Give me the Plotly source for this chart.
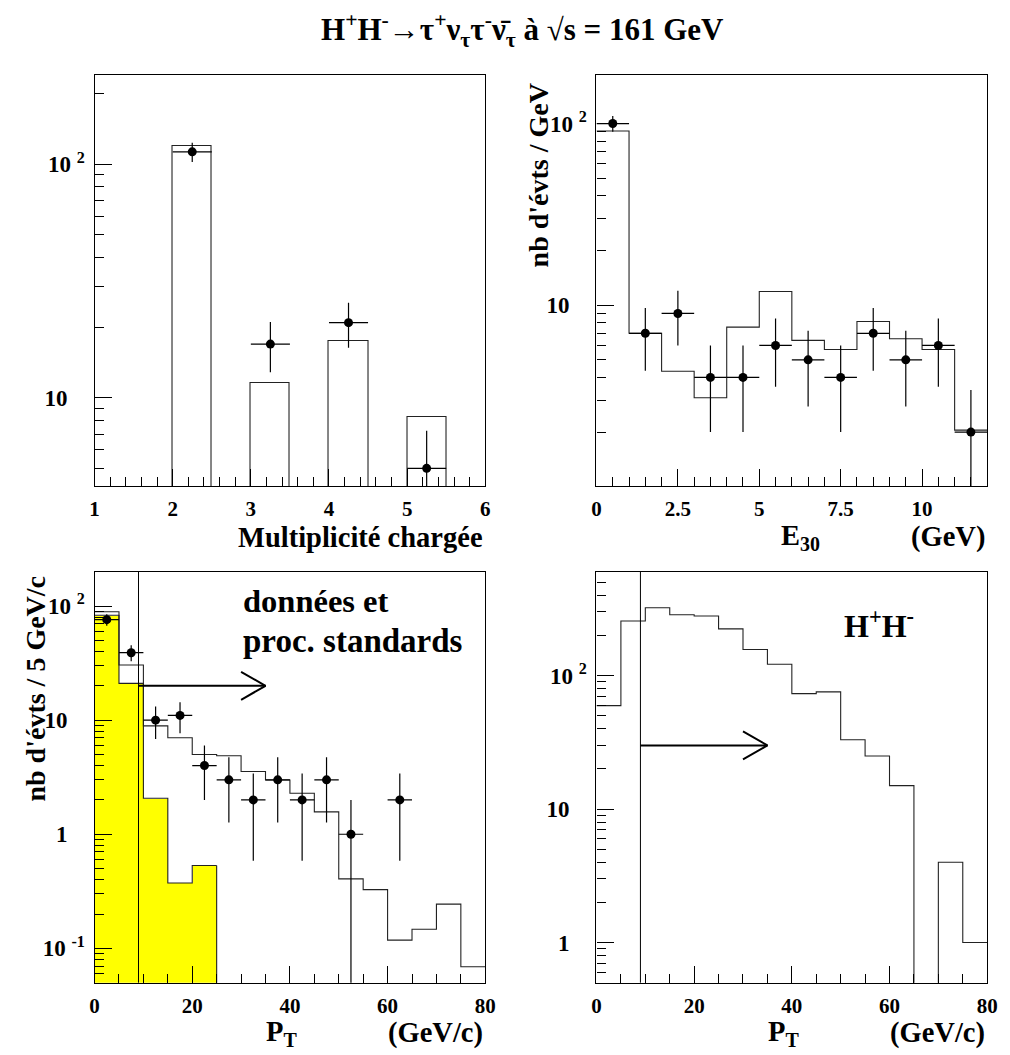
import numpy as np
import plotly.graph_objects as go

# ---------------- data ----------------
# Panel 1 : charged multiplicity
MULT_BIN_LOW = [2, 3, 4, 5]
MULT_BIN_WIDTH = 0.5
MULT_MC = [120, 11.6, 17.6, 8.3]
MULT_DATA = [113, 17, 21, 5]

# Panel 2 : E30 (1 GeV bins from 0 to 12)
E30_EDGES = list(range(0, 13))
E30_MC = [91, 7.0, 4.33, 3.09, 7.57, 11.9, 6.4, 5.7, 8.13, 6.53, 5.7, 2.05]
E30_DATA = [100, 7, 9, 4, 4, 6, 5, 4, 7, 5, 6, 2]

# Panel 3 : PT, data and standard processes (5 GeV/c bins 0..80)
PT_EDGES = list(range(0, 85, 5))
PT_YELLOW = [83, 21, 2.07, 0.374, 0.532, 0, 0, 0, 0, 0, 0, 0, 0, 0, 0, 0]
PT_MC = [89, 30.4, 8.9, 7.0, 5.0, 4.87, 3.55, 2.99, 2.29, 1.57,
         0.406, 0.327, 0.118, 0.147, 0.244, 0.069]
PT_DATA = [76, 39, 10, 11, 4, 3, 2, 3, 2, 3, 1, 0, 2, 0, 0, 0]

# Panel 4 : PT, H+H- signal
PT_SIGNAL = [59.6, 257, 323, 286, 280, 224, 157, 121.6, 73.3, 75.5,
             33.1, 25, 15, 0, 4, 1]

PT_CUT = 9
ARROW_END = 35
ARROW_Y_DATA = 20
ARROW_Y_SIGNAL = 30

FONT = "Liberation Serif"
W, H = 1010, 1055
FLOOR = 1e-6


def px_x(p):
    return p / W


def px_y(p):
    return 1 - p / H


def step_trace(edges, vals, xa, ya):
    v = [x if x > 0 else FLOOR for x in vals]
    return go.Scatter(x=edges, y=v + [v[-1]], mode="lines", line_shape="hv",
                      line=dict(color="#222", width=1.1), xaxis=xa, yaxis=ya,
                      hoverinfo="skip", showlegend=False)


def data_trace(centers, counts, halfw, xa, ya):
    xs, ys, es = [], [], []
    for c, n in zip(centers, counts):
        if n > 0:
            xs.append(c)
            ys.append(n)
            es.append(float(np.sqrt(n)))
    return go.Scatter(x=xs, y=ys, mode="markers",
                      marker=dict(color="black", size=9, symbol="circle"),
                      error_y=dict(type="data", array=es, visible=True, width=0,
                                   thickness=1.2, color="black"),
                      error_x=dict(type="constant", value=halfw, visible=True, width=0,
                                   thickness=1.2, color="black"),
                      xaxis=xa, yaxis=ya, showlegend=False)


fig = go.Figure()

# Panel 1
mult_centers = [b + MULT_BIN_WIDTH / 2 for b in MULT_BIN_LOW]
fig.add_trace(go.Bar(x=mult_centers, y=MULT_MC, width=MULT_BIN_WIDTH,
                     marker=dict(color="rgba(0,0,0,0)", line=dict(color="#222", width=1.1)),
                     xaxis="x", yaxis="y", showlegend=False))
fig.add_trace(data_trace(mult_centers, MULT_DATA, MULT_BIN_WIDTH / 2, "x", "y"))

# Panel 2
e_centers = [(a + b) / 2 for a, b in zip(E30_EDGES[:-1], E30_EDGES[1:])]
fig.add_trace(step_trace(E30_EDGES, E30_MC, "x2", "y2"))
fig.add_trace(data_trace(e_centers, E30_DATA, 0.5, "x2", "y2"))

# Panel 3
pt_centers = [(a + b) / 2 for a, b in zip(PT_EDGES[:-1], PT_EDGES[1:])]
yc = [c for c, v in zip(pt_centers, PT_YELLOW) if v > 0]
yv = [v for v in PT_YELLOW if v > 0]
fig.add_trace(go.Bar(x=yc, y=yv, width=5, marker=dict(color="#ffff00", line=dict(width=0)),
                     xaxis="x3", yaxis="y3", showlegend=False))
ye = PT_EDGES[:len(yv) + 1]
fig.add_trace(step_trace(ye, yv, "x3", "y3"))
fig.add_trace(go.Scatter(x=[ye[-1], ye[-1]], y=[FLOOR, yv[-1]], mode="lines",
                         line=dict(color="#222", width=1.1), xaxis="x3", yaxis="y3",
                         showlegend=False))
fig.add_trace(step_trace(PT_EDGES, PT_MC, "x3", "y3"))
fig.add_trace(data_trace(pt_centers, PT_DATA, 2.5, "x3", "y3"))

# Panel 4
fig.add_trace(step_trace(PT_EDGES, PT_SIGNAL, "x4", "y4"))

# arrows (open heads)
for xa, ya, yv_, fac in (("x3", "y3", ARROW_Y_DATA, 1.327), ("x4", "y4", ARROW_Y_SIGNAL, 1.273)):
    fig.add_trace(go.Scatter(
        x=[PT_CUT, ARROW_END, None, ARROW_END - 5, ARROW_END, ARROW_END - 5],
        y=[yv_, yv_, None, yv_ * fac, yv_, yv_ / fac],
        mode="lines", line=dict(color="black", width=2), xaxis=xa, yaxis=ya,
        showlegend=False, hoverinfo="skip"))

# cut lines
for xr, yr in (("x3", "y3 domain"), ("x4", "y4 domain")):
    fig.add_shape(type="line", xref=xr, yref=yr, x0=PT_CUT, x1=PT_CUT, y0=0, y1=1,
                  line=dict(color="black", width=1))


# ---------------- axes ----------------
def xaxis(dom, rng, dtick, mdtick, anchor):
    return dict(domain=dom, range=rng, tick0=0, dtick=dtick, anchor=anchor,
                ticks="inside", ticklen=17, tickwidth=1, tickcolor="black",
                showline=True, linecolor="black", linewidth=1.2, mirror=True,
                showgrid=False, zeroline=False, ticklabelstandoff=4,
                minor=dict(ticks="inside", ticklen=9, tickwidth=1, tickcolor="black",
                           dtick=mdtick, tick0=0, showgrid=False),
                tickfont=dict(family=FONT, size=21, color="black", weight="bold"))


def label(v):
    e = int(round(np.log10(v)))
    if e == 0:
        return "1\u00a0\u00a0\u00a0"
    if e == 1:
        return "10\u00a0\u00a0\u00a0"
    return "10\u00a0<sup>%d</sup>" % e


def yaxis(dom, lo, hi, anchor):
    lo_e, hi_e = int(np.floor(np.log10(lo))), int(np.ceil(np.log10(hi)))
    major = [10.0 ** e for e in range(lo_e, hi_e + 1) if lo <= 10.0 ** e <= hi]
    minor = [m * 10.0 ** e for e in range(lo_e, hi_e + 1) for m in range(2, 10)
             if lo <= m * 10.0 ** e <= hi]
    return dict(domain=dom, type="log", range=[np.log10(lo), np.log10(hi)], anchor=anchor,
                tickmode="array", tickvals=major, ticktext=[label(v) for v in major],
                ticks="inside", ticklen=17, tickwidth=1, tickcolor="black",
                showline=True, linecolor="black", linewidth=1.2, mirror=True,
                showgrid=False, zeroline=False, ticklabelstandoff=4,
                minor=dict(ticks="inside", ticklen=9, tickwidth=1, tickcolor="black",
                           tickmode="array", tickvals=minor, showgrid=False),
                tickfont=dict(family=FONT, size=23, color="black", weight="bold"))


XL = [px_x(91), px_x(488)]
XR = [px_x(601), px_x(998)]
YT = [px_y(486), px_y(75)]
YB = [px_y(982.7), px_y(571.7)]

fig.update_layout(
    width=W, height=H, autosize=False,
    margin=dict(l=0, r=0, t=0, b=0),
    paper_bgcolor="white", plot_bgcolor="white",
    font=dict(family=FONT, color="black"),
    showlegend=False, bargap=0, hovermode=False,
    xaxis=xaxis(XL, [1, 6], 1, 0.2, "y"),
    yaxis=yaxis(YT, 4.2, 241, "x"),
    xaxis2=xaxis(XR, [0, 12], 2.5, 0.5, "y2"),
    yaxis2=yaxis(YT, 1.01, 185, "x2"),
    xaxis3=xaxis(XL, [0, 80], 20, 5, "y3"),
    yaxis3=yaxis(YB, 0.05, 200, "x3"),
    xaxis4=xaxis(XR, [0, 80], 20, 5, "y4"),
    yaxis4=yaxis(YB, 0.5, 601, "x4"),
)


def ann(text, x, y, size, xanchor="center", yanchor="middle", angle=0):
    fig.add_annotation(text=text, x=px_x(x), y=px_y(y), xref="paper", yref="paper",
                       xanchor=xanchor, yanchor=yanchor, showarrow=False, textangle=angle,
                       font=dict(family=FONT, size=size, color="black", weight="bold"))


ann("H<sup>+</sup>H<sup>-</sup>\u2192\u03c4<sup>+</sup>\u03bd<sub>\u03c4</sub>\u03c4<sup>-</sup>"
    "\u03bd\u0304<sub>\u03c4</sub> \u00e0 \u221as = 161 GeV", 526, 30, 31)
ann("Multiplicit\u00e9 charg\u00e9e", 488, 537, 28.5, xanchor="right")
ann("E<sub>30</sub>", 808, 537, 28.5)
ann("(GeV)", 998, 537, 28.5, xanchor="right")
ann("P<sub>T</sub>", 281, 1033, 28.5)
ann("(GeV/c)", 488, 1033, 28.5, xanchor="right")
ann("P<sub>T</sub>", 791, 1033, 28.5)
ann("(GeV/c)", 998, 1033, 28.5, xanchor="right")
ann("nb d'\u00e9vts / GeV", 542, 175, 28, angle=-90)
ann("nb d'\u00e9vts / 5 GeV/c", 30, 689, 28, angle=-90)
ann("donn\u00e9es et", 240, 601, 32.5, xanchor="left")
ann("proc. standards", 240, 641, 33, xanchor="left")
ann("H<sup>+</sup>H<sup>-</sup>", 850, 624, 32, xanchor="left")

fig.write_html(
    "out.html",
    config={"displayModeBar": False},
    post_script="document.body.style.margin='0';document.body.style.overflow='hidden';",
)
